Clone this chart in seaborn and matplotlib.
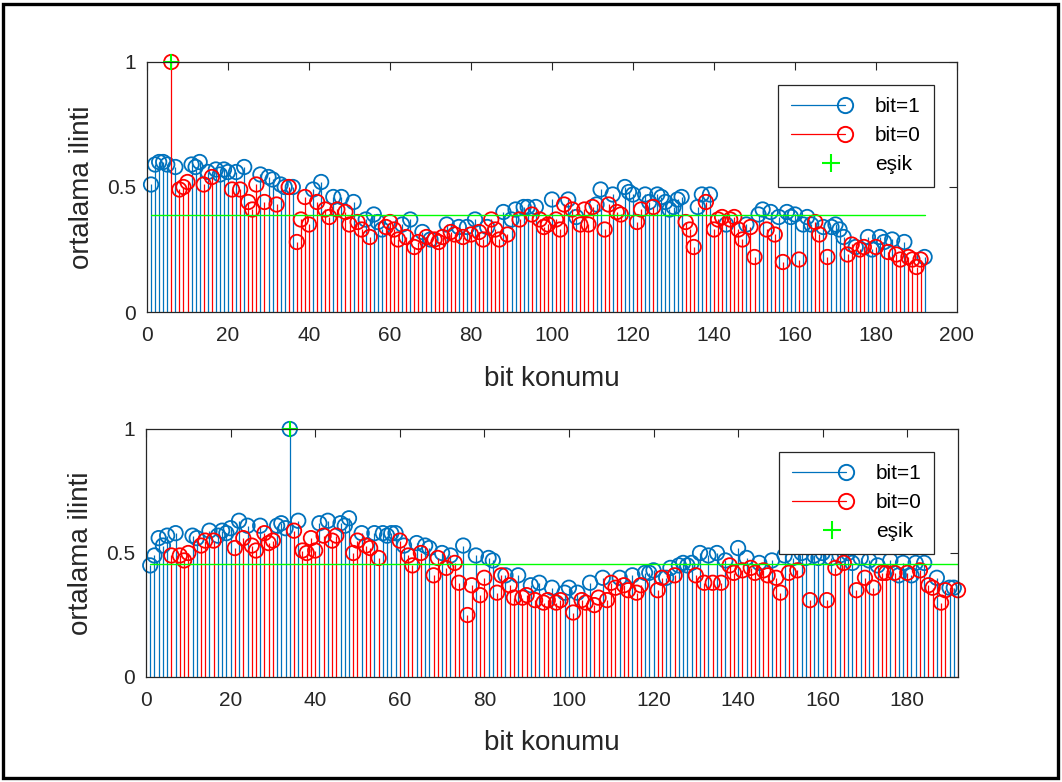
import numpy as np
import pandas as pd
import seaborn as sns
import matplotlib
matplotlib.use("Agg")
import matplotlib.pyplot as plt
from matplotlib.lines import Line2D
from matplotlib.legend_handler import HandlerBase
from matplotlib.patches import Rectangle

# ---- data -----------------------------------------------------------------
# upper panel: bit value at each position and its mean correlation
bits_top = [
    1, 1, 1, 1, 1, 0, 1, 0, 0, 0,
    1, 1, 1, 0, 1, 0, 1, 1, 1, 1,
    0, 1, 0, 1, 0, 0, 0, 1, 0, 1,
    1, 0, 1, 1, 0, 1, 0, 0, 0, 0,
    1, 0, 1, 0, 0, 1, 0, 1, 0, 0,
    1, 0, 0, 1, 0, 1, 1, 1, 0, 0,
    0, 0, 1, 0, 1, 0, 0, 1, 0, 1,
    0, 0, 0, 1, 0, 0, 1, 0, 1, 0,
    1, 0, 0, 1, 0, 0, 0, 1, 0, 1,
    1, 0, 1, 1, 0, 1, 0, 0, 0, 1,
    0, 0, 0, 1, 0, 1, 0, 0, 0, 0,
    1, 1, 0, 0, 1, 0, 0, 1, 1, 1,
    0, 0, 1, 1, 0, 1, 1, 1, 1, 1,
    1, 1, 0, 0, 0, 1, 1, 0, 1, 0,
    0, 0, 1, 0, 0, 0, 0, 1, 0, 0,
    1, 1, 0, 1, 0, 1, 0, 1, 1, 1,
    0, 1, 1, 1, 0, 0, 1, 0, 1, 1,
    1, 1, 0, 0, 1, 0, 0, 1, 1, 0,
    1, 1, 0, 1, 0, 0, 1, 0, 0, 0,
    0, 1,
]
corr_top = [
    .51, .59, .60, .60, .59, 1.00, .58, .49, .50, .52,
    .59, .58, .60, .51, .56, .54, .57, .55, .57, .56,
    .49, .56, .49, .58, .44, .41, .51, .55, .44, .54,
    .53, .43, .51, .50, .50, .50, .28, .37, .46, .35,
    .49, .44, .52, .41, .38, .46, .41, .46, .40, .35,
    .44, .36, .33, .37, .30, .39, .36, .33, .34, .36,
    .33, .29, .35, .30, .37, .26, .28, .32, .30, .29,
    .29, .28, .30, .35, .32, .31, .34, .30, .34, .31,
    .37, .32, .29, .34, .37, .33, .29, .40, .31, .37,
    .41, .37, .42, .42, .39, .42, .37, .34, .35, .45,
    .37, .33, .43, .45, .41, .38, .35, .41, .35, .42,
    .43, .49, .33, .43, .47, .40, .39, .50, .48, .47,
    .36, .41, .47, .44, .42, .47, .46, .44, .41, .42,
    .45, .46, .36, .33, .26, .42, .47, .44, .47, .33,
    .37, .38, .35, .37, .38, .33, .29, .35, .34, .22,
    .39, .41, .33, .40, .31, .38, .20, .40, .38, .39,
    .21, .35, .38, .35, .36, .31, .34, .22, .34, .35,
    .33, .30, .23, .27, .26, .25, .26, .30, .25, .26,
    .30, .28, .24, .29, .23, .21, .28, .22, .21, .18,
    .21, .22,
]
threshold_top = 0.387

# lower panel
bits_bottom = [
    1, 1, 1, 1, 1, 0, 1, 0, 0, 0,
    1, 1, 0, 0, 1, 0, 1, 1, 1, 1,
    0, 1, 0, 1, 0, 0, 1, 0, 0, 0,
    1, 1, 1, 1, 0, 1, 0, 0, 0, 0,
    1, 0, 1, 0, 0, 1, 1, 1, 0, 0,
    1, 0, 0, 1, 0, 1, 1, 1, 1, 0,
    1, 0, 0, 1, 0, 1, 1, 0, 0, 1,
    0, 1, 0, 0, 1, 0, 0, 1, 0, 0,
    1, 1, 0, 0, 1, 0, 0, 1, 0, 0,
    1, 0, 1, 0, 0, 1, 0, 0, 1, 1,
    0, 1, 0, 0, 1, 0, 0, 1, 0, 0,
    0, 1, 0, 0, 1, 0, 0, 1, 1, 1,
    0, 0, 1, 1, 0, 1, 1, 1, 1, 0,
    1, 0, 1, 0, 1, 0, 1, 0, 0, 1,
    0, 1, 0, 0, 1, 0, 0, 1, 0, 0,
    1, 0, 1, 0, 1, 1, 0, 1, 1, 1,
    0, 1, 0, 1, 0, 1, 1, 0, 1, 0,
    1, 0, 1, 0, 0, 1, 0, 1, 1, 0,
    1, 1, 0, 1, 0, 0, 1, 0, 0, 1,
    1, 0,
]
corr_bottom = [
    .45, .49, .56, .53, .57, .49, .58, .49, .47, .50,
    .57, .56, .53, .55, .59, .55, .57, .59, .58, .60,
    .52, .63, .56, .61, .53, .51, .61, .58, .54, .55,
    .61, .62, .60, 1.00, .59, .63, .51, .50, .56, .51,
    .62, .57, .63, .55, .57, .62, .61, .64, .50, .55,
    .58, .53, .52, .58, .48, .58, .57, .58, .58, .55,
    .53, .49, .45, .54, .50, .53, .52, .41, .48, .50,
    .44, .49, .46, .38, .53, .25, .37, .49, .33, .40,
    .48, .47, .34, .41, .41, .37, .32, .41, .32, .33,
    .37, .31, .38, .30, .31, .36, .30, .31, .34, .36,
    .26, .34, .31, .30, .38, .29, .32, .40, .31, .38,
    .36, .40, .37, .35, .41, .34, .37, .42, .42, .43,
    .35, .40, .40, .44, .41, .45, .46, .45, .46, .41,
    .50, .38, .49, .38, .50, .38, .47, .45, .42, .52,
    .43, .48, .44, .42, .46, .43, .41, .47, .40, .34,
    .49, .42, .48, .43, .50, .48, .31, .49, .48, .50,
    .31, .48, .44, .49, .46, .50, .46, .35, .48, .40,
    .47, .36, .45, .42, .42, .47, .42, .41, .46, .42,
    .41, .46, .43, .46, .37, .36, .40, .30, .35, .36,
    .36, .35,
]
threshold_bottom = 0.455

legend_labels = ["bit=1", "bit=0", "eşik"]
x_label = "bit konumu"
y_label = "ortalama ilinti"

# ---- style ----------------------------------------------------------------
BLUE = "#0072BD"
RED = "#FF0000"
GREEN = "#00FF00"
AX = "#262626"

sns.set_theme(style="white")
plt.rcParams["font.family"] = ["Liberation Sans", "DejaVu Sans"]
plt.rcParams["axes.edgecolor"] = AX
plt.rcParams["xtick.color"] = AX
plt.rcParams["ytick.color"] = AX
plt.rcParams["text.color"] = "black"


class StemLegendHandler(HandlerBase):
    """Legend entry: a horizontal stem line ending in a marker."""

    def __init__(self, color, marker, show_line=True, ms=11, mew=1.4):
        super().__init__()
        self.color = color
        self.marker = marker
        self.show_line = show_line
        self.ms = ms
        self.mew = mew

    def create_artists(self, legend, orig_handle, xdescent, ydescent,
                       width, height, fontsize, trans):
        y = height / 2 - ydescent
        x0, x1 = -xdescent, width - xdescent
        artists = []
        if self.show_line:
            artists.append(Line2D([x0, x1], [y, y], color=self.color,
                                  lw=0.9, transform=trans))
            xm = x1
        else:
            xm = x1 - width * 0.25
        artists.append(Line2D([xm], [y], marker=self.marker, ls="none",
                              mfc="none", mec=self.color, ms=self.ms,
                              mew=self.mew, transform=trans))
        return artists


def draw_panel(ax, bits, corr, thr, xmax, xticks):
    df = pd.DataFrame({"pos": np.arange(1, len(corr) + 1),
                       "corr": corr, "bit": bits})
    ones = df[df["bit"] == 1]
    zeros = df[df["bit"] == 0]

    ax.vlines(ones["pos"], 0, ones["corr"], colors=BLUE, lw=0.9, zorder=2.0)
    sns.scatterplot(x=ones["pos"], y=ones["corr"], ax=ax, marker="o", s=108,
                    facecolor="none", edgecolor=BLUE, linewidth=1.3,
                    zorder=2.1, legend=False, clip_on=False)
    ax.vlines(zeros["pos"], 0, zeros["corr"], colors=RED, lw=0.9, zorder=2.2)
    sns.scatterplot(x=zeros["pos"], y=zeros["corr"], ax=ax, marker="o", s=108,
                    facecolor="none", edgecolor=RED, linewidth=1.3,
                    zorder=2.3, legend=False, clip_on=False)

    sns.lineplot(x=df["pos"], y=[thr] * len(df), ax=ax, color=GREEN,
                 lw=1.0, zorder=2.4)
    peak = df.loc[df["corr"].idxmax()]
    ax.plot([peak["pos"]], [peak["corr"]], ls="none", marker="+", ms=12,
            mew=1.5, color=GREEN, zorder=2.5, clip_on=False)

    ax.set_xlim(0, xmax)
    ax.set_ylim(0, 1)
    ax.set_xticks(xticks)
    ax.set_yticks([0, 0.5, 1])
    ax.set_yticklabels(["0", "0.5", "1"])
    ax.tick_params(direction="in", top=True, right=True, length=6,
                   width=0.8, labelsize=15)
    ax.tick_params(axis="x", pad=10)
    ax.tick_params(axis="y", pad=8)
    for sp in ax.spines.values():
        sp.set_visible(True)
        sp.set_color(AX)
        sp.set_linewidth(0.9)
    ax.set_xlabel(x_label, fontsize=20)
    ax.set_ylabel(y_label, fontsize=20)
    ax.xaxis.set_label_coords(0.5, -0.215)
    ax.yaxis.set_label_coords(-0.064, 0.5)

    handles = [Line2D([], [], color=BLUE), Line2D([], [], color=RED),
               Line2D([], [], color=GREEN)]
    leg = ax.legend(
        handles, legend_labels, loc="upper right",
        bbox_to_anchor=(0.971, 0.908), borderaxespad=0,
        fontsize=15, frameon=True, fancybox=False, framealpha=1,
        edgecolor=AX, handlelength=2.6, handletextpad=1.45,
        labelspacing=0.48, borderpad=0.6,
        handler_map={
            handles[0]: StemLegendHandler(BLUE, "o"),
            handles[1]: StemLegendHandler(RED, "o"),
            handles[2]: StemLegendHandler(GREEN, "+", show_line=False,
                                          ms=13, mew=1.5),
        },
    )
    leg.get_frame().set_linewidth(0.9)
    leg.set_zorder(5)


fig = plt.figure(figsize=(10.62, 7.82), dpi=100)
fig.patch.set_facecolor("white")

ax_top = fig.add_axes([147 / 1062, 1 - 312 / 782, 810 / 1062, 250 / 782])
ax_bot = fig.add_axes([146 / 1062, 1 - 677 / 782, 812 / 1062, 248 / 782])

draw_panel(ax_top, bits_top, corr_top, threshold_top, 200,
           np.arange(0, 201, 20))
draw_panel(ax_bot, bits_bottom, corr_bottom, threshold_bottom, 192,
           np.arange(0, 181, 20))

# outer frame around the figure
fig.patches.append(Rectangle((3 / 1062, 4 / 782), 1055 / 1062, 774 / 782,
                             transform=fig.transFigure, fill=False,
                             ec="black", lw=2.4))

fig.savefig("out.png", dpi=100)
